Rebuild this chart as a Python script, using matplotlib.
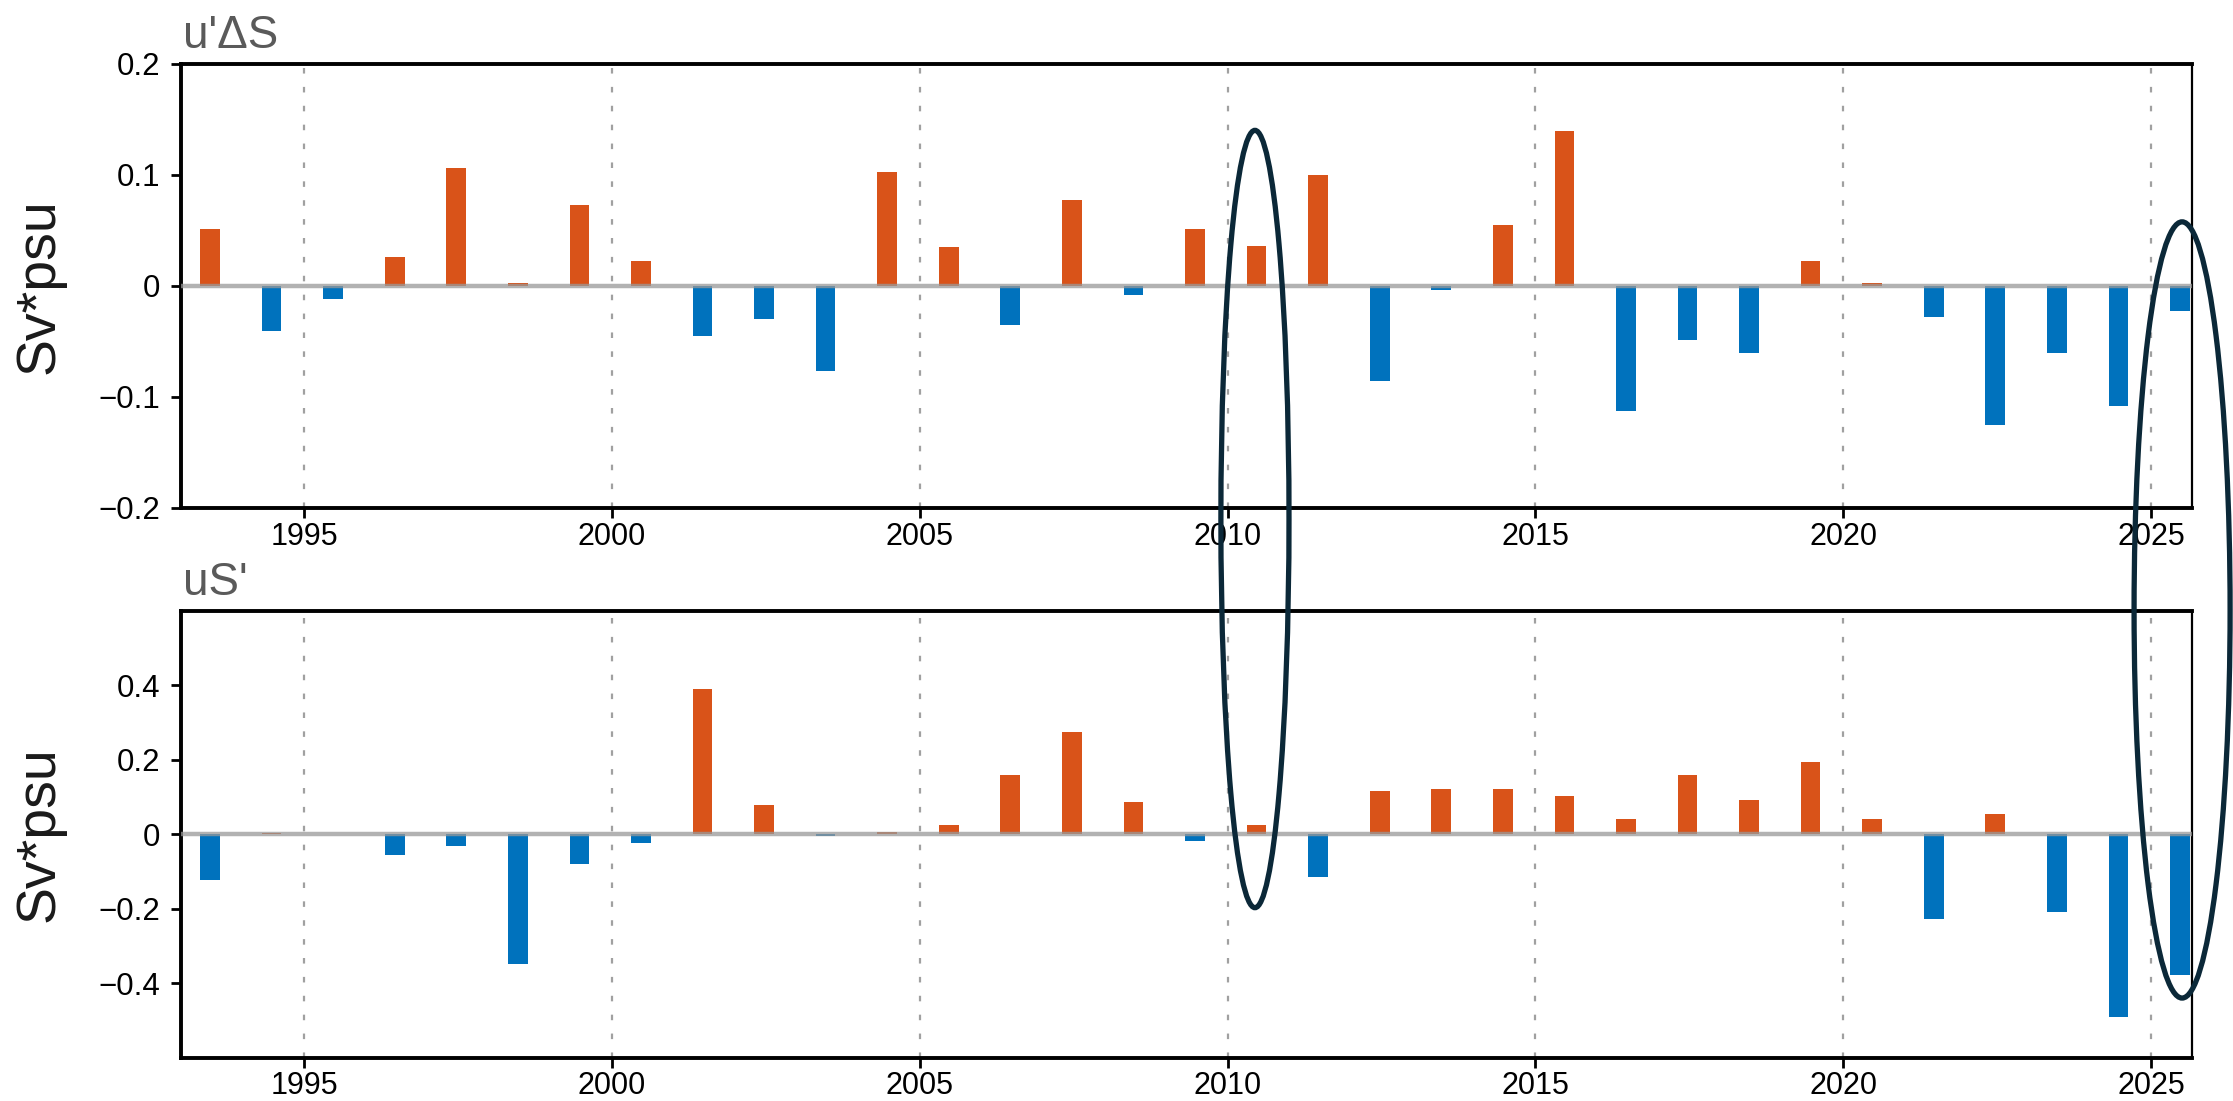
import matplotlib
matplotlib.use("Agg")
import matplotlib.pyplot as plt
import numpy as np
from matplotlib.patches import Ellipse

# yearly values, 1993-2025
years = np.arange(1993, 2026)

# u'dS term (Sv*psu)
du_ds = [0.051, -0.041, -0.012, 0.026, 0.106, 0.002, 0.073, 0.022, -0.045, -0.030,
         -0.077, 0.102, 0.035, -0.035, 0.077, -0.008, 0.051, 0.036, 0.100, -0.086,
         -0.004, 0.055, 0.139, -0.113, -0.049, -0.061, 0.022, 0.002, -0.028, -0.125,
         -0.061, -0.108, -0.023]

# uS' term (Sv*psu)
u_ds = [-0.123, 0.003, 0.0, -0.056, -0.031, -0.349, -0.079, -0.023, 0.390, 0.079,
        -0.005, 0.005, 0.024, 0.159, 0.275, 0.086, -0.018, 0.024, -0.116, 0.115,
        0.121, 0.121, 0.103, 0.042, 0.159, 0.091, 0.195, 0.042, -0.227, 0.054,
        -0.208, -0.490, -0.379]

top_title = "u'ΔS"
bottom_title = "uS'"
y_label = "Sv*psu"
year_ticks = [1995, 2000, 2005, 2010, 2015, 2020, 2025]
top_yticks = [-0.2, -0.1, 0, 0.1, 0.2]
top_yticklabels = ["\u22120.2", "\u22120.1", "0", "0.1", "0.2"]
bottom_yticks = [-0.4, -0.2, 0, 0.2, 0.4]
bottom_yticklabels = ["\u22120.4", "\u22120.2", "0", "0.2", "0.4"]

plt.rcParams['font.family'] = ['Liberation Sans', 'DejaVu Sans']

POS_COLOR = "#D95319"
NEG_COLOR = "#0072BD"
RING_COLOR = "#0b2838"
NARROW = ['Liberation Sans Narrow', 'Liberation Sans', 'DejaVu Sans']


def bar_panel(ax, values, ylim, yticks, yticklabels, title):
    vals = np.array(values)
    colors = np.where(vals >= 0, POS_COLOR, NEG_COLOR)
    ax.bar(years + 0.47, vals, width=0.32, color=colors, zorder=2)
    # zero line sits over the bars
    ax.axhline(0, color="#999999", lw=3.2, alpha=0.75, zorder=3)
    for yr in year_ticks:
        ax.axvline(yr, color="#a0a0a0", lw=1.6, ls=(0, (2.5, 6)), zorder=1)

    ax.set_xlim(1993.0, 2025.66)
    ax.set_ylim(*ylim)
    ax.set_xticks(year_ticks)
    ax.set_yticks(yticks)
    ax.set_yticklabels(yticklabels)
    ax.tick_params(axis='both', direction='out', length=7, width=2, labelsize=22.5)
    ax.tick_params(axis='y', pad=8)
    ax.tick_params(axis='x', pad=3, labelsize=22)

    for side in ['left', 'top', 'bottom']:
        ax.spines[side].set_linewidth(2.8)
    ax.spines['right'].set_linewidth(1.6)

    ax.set_ylabel(y_label, fontsize=40, va='center', color='#1a1a1a')
    ax.yaxis.set_label_coords(-0.0706, 0.5)

    ax.annotate(title, xy=(0, 1), xycoords='axes fraction', xytext=(1.5, 11.5),
                textcoords='offset points', ha='left', va='baseline',
                fontsize=33, color='#5a5a5a', family=NARROW)


fig = plt.figure(figsize=(22.33, 11.01), dpi=100)
ax1 = fig.add_axes([0.0811, 0.5388, 0.9004, 0.4034])
ax2 = fig.add_axes([0.0811, 0.0395, 0.9004, 0.4055])

bar_panel(ax1, du_ds, (-0.2, 0.2), top_yticks, top_yticklabels, top_title)
bar_panel(ax2, u_ds, (-0.6, 0.6), bottom_yticks, bottom_yticklabels, bottom_title)

# highlight rings drawn over both panels
fig.add_artist(Ellipse((0.562, 0.5286), 0.0305, 0.706, transform=fig.transFigure,
                       fill=False, ec=RING_COLOR, lw=3.8, zorder=10))
fig.add_artist(Ellipse((0.9772, 0.446), 0.043, 0.705, transform=fig.transFigure,
                       fill=False, ec=RING_COLOR, lw=3.8, zorder=10))

fig.savefig("out.png", dpi=100)
